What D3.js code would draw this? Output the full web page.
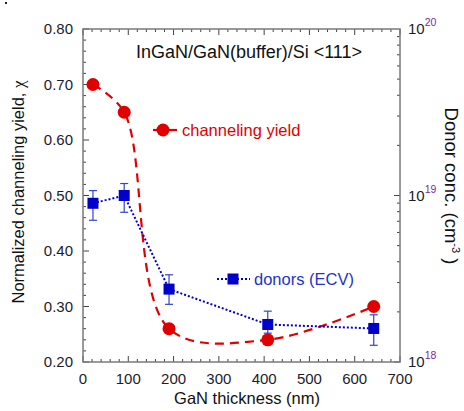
<!DOCTYPE html>
<html lang="en">
<head>
<meta charset="UTF-8">
<title>Channeling yield vs GaN thickness</title>
<script src="https://d3js.org/d3.v7.min.js"></script>
<style>
    body { margin: 0; background: #fff; }
    text { font-family: Arial, "Liberation Sans", sans-serif; }
    .tick-label { font-size: 15px; fill: #1c1c2c; }
    .axis-title { font-size: 16.5px; fill: #111; }
</style>
</head>
<body>
<svg width="464" height="411"></svg>

<script>
    // GaN thickness (nm)
    const thickness = [22, 91, 190, 408, 642];
    // normalized channeling yield (left axis)
    const chanYield = [0.70, 0.65, 0.26, 0.24, 0.30];
    // donor concentration (right axis, cm^-3) with error range
    const donors   = [8.98e18, 1.0e19, 2.74e18, 1.68e18, 1.59e18];
    const donorLow = [7.10e18, 7.93e18, 2.22e18, 1.49e18, 1.26e18];
    const donorHigh= [1.07e19, 1.18e19, 3.34e18, 2.02e18, 1.92e18];

    const xTicks = [0, 100, 200, 300, 400, 500, 600, 700];
    const yTicks = [0.20, 0.30, 0.40, 0.50, 0.60, 0.70, 0.80];
    const rTicks = [1e18, 1e19, 1e20];

    const svg = d3.select("svg");
    const L = 83, R = 400, T = 29, B = 362;

    const x = d3.scaleLinear().domain([0, 700]).range([L, R]);
    const y = d3.scaleLinear().domain([0.2, 0.8]).range([B, T]);
    const yr = d3.scaleLog().domain([1e18, 1e20]).range([B, T]);

    const red = "#e00000", blue = "#0000cc", frame = "#7a7a7a";

    // ticks (all inward)
    const tk = svg.append("g").attr("stroke", "#444").attr("stroke-width", 1);
    d3.range(0, 701, 20).forEach(function (v) {
        const len = v % 100 === 0 ? 6 : 3;
        tk.append("line").attr("x1", x(v)).attr("x2", x(v)).attr("y1", B).attr("y2", B - len);
        tk.append("line").attr("x1", x(v)).attr("x2", x(v)).attr("y1", T).attr("y2", T + len);
    });
    d3.range(0, 31).forEach(function (i) {
        const v = 0.2 + i * 0.02;
        const len = i % 5 === 0 ? 6 : 3;
        tk.append("line").attr("x1", L).attr("x2", L + len).attr("y1", y(v)).attr("y2", y(v));
    });
    [1, 10].forEach(function (dec) {
        d3.range(1, 10).forEach(function (m) {
            const v = m * dec * 1e18;
            const len = m === 1 ? 6 : 3;
            tk.append("line").attr("x1", R).attr("x2", R - len).attr("y1", yr(v)).attr("y2", yr(v));
        });
    });

    // frame
    svg.append("rect").attr("x", L).attr("y", T).attr("width", R - L).attr("height", B - T)
        .attr("fill", "none").attr("stroke", frame).attr("stroke-width", 1.5);

    // tick labels
    svg.selectAll(".xl").data(xTicks).enter().append("text")
        .attr("class", "tick-label").attr("x", d => x(d)).attr("y", B + 22)
        .attr("text-anchor", "middle").text(d => d);
    svg.selectAll(".yl").data(yTicks).enter().append("text")
        .attr("class", "tick-label").attr("x", L - 10).attr("y", d => y(d) + 5)
        .attr("text-anchor", "end").text(d => d.toFixed(2));
    const rl = svg.selectAll(".rl").data(rTicks).enter().append("text")
        .attr("class", "tick-label").attr("x", R + 8).attr("y", d => yr(d) + 5);
    rl.append("tspan").text("10");
    rl.append("tspan").attr("dy", -8).style("font-size", "10.5px").attr("fill", "#7a2c9a")
        .text(d => Math.round(Math.log10(d)));

    // axis titles
    svg.append("text").attr("class", "axis-title").attr("x", 247).attr("y", 404)
        .attr("text-anchor", "middle").text("GaN thickness (nm)");
    const lt = svg.append("text").attr("class", "axis-title")
        .attr("transform", "translate(24,192) rotate(-90)")
        .attr("text-anchor", "middle");
    lt.append("tspan").text("Normalized channeling yield, ");
    lt.append("tspan").style("font-family", "'Liberation Serif', serif").style("font-size", "17px").text("\u03c7");
    const rt = svg.append("text").attr("class", "axis-title")
        .style("font-size", "18.5px")
        .attr("transform", "translate(445,186) rotate(90)")
        .attr("text-anchor", "middle");
    rt.append("tspan").text("Donor conc. (cm");
    rt.append("tspan").attr("dy", -7).style("font-size", "11px").text("-3");
    rt.append("tspan").attr("dy", 7).text(" )");

    svg.append("text").attr("x", 249).attr("y", 58).attr("text-anchor", "middle")
        .attr("font-size", 18).attr("fill", "#111").text("InGaN/GaN(buffer)/Si <111>");

    // red curve
    const redPts = thickness.map((t, i) => [t, chanYield[i]]);
    svg.append("path").datum(redPts)
        .attr("d", d3.line().x(d => x(d[0])).y(d => y(d[1])).curve(d3.curveCatmullRom.alpha(0.5)))
        .attr("fill", "none").attr("stroke", red).attr("stroke-width", 2.2)
        .attr("stroke-dasharray", "9,6");

    // blue line
    const bluePts = thickness.map((t, i) => [t, donors[i]]);
    svg.append("path").datum(bluePts)
        .attr("d", d3.line().x(d => x(d[0])).y(d => yr(d[1])))
        .attr("fill", "none").attr("stroke", blue).attr("stroke-width", 2)
        .attr("stroke-dasharray", "2,2");

    // error bars
    const eb = svg.append("g").attr("stroke", "#3344cc").attr("stroke-width", 1.2);
    thickness.forEach(function (t, i) {
        const cx = x(t);
        eb.append("line").attr("x1", cx).attr("x2", cx).attr("y1", yr(donorLow[i])).attr("y2", yr(donorHigh[i]));
        eb.append("line").attr("x1", cx - 4).attr("x2", cx + 4).attr("y1", yr(donorLow[i])).attr("y2", yr(donorLow[i]));
        eb.append("line").attr("x1", cx - 4).attr("x2", cx + 4).attr("y1", yr(donorHigh[i])).attr("y2", yr(donorHigh[i]));
    });

    // markers
    svg.selectAll(".sq").data(bluePts).enter().append("rect")
        .attr("x", d => x(d[0]) - 5.5).attr("y", d => yr(d[1]) - 5.5)
        .attr("width", 11).attr("height", 11).attr("fill", blue);
    svg.selectAll(".ci").data(redPts).enter().append("circle")
        .attr("cx", d => x(d[0])).attr("cy", d => y(d[1])).attr("r", 6.5).attr("fill", red);

    // legend
    const lg1 = svg.append("g");
    lg1.append("line").attr("x1", 153).attr("x2", 177).attr("y1", 130).attr("y2", 130)
        .attr("stroke", red).attr("stroke-width", 2.2);
    lg1.append("circle").attr("cx", 163).attr("cy", 130).attr("r", 6.5).attr("fill", red);
    lg1.append("text").attr("x", 182).attr("y", 136).attr("font-size", 16.5).attr("fill", red)
        .text("channeling yield");

    const lg2 = svg.append("g");
    lg2.append("line").attr("x1", 217).attr("x2", 250).attr("y1", 279).attr("y2", 279)
        .attr("stroke", blue).attr("stroke-width", 2).attr("stroke-dasharray", "2,2");
    lg2.append("rect").attr("x", 227.5).attr("y", 273.5).attr("width", 11).attr("height", 11).attr("fill", blue);
    lg2.append("text").attr("x", 254).attr("y", 285).attr("font-size", 16.5).attr("fill", "#2233cc")
        .text("donors (ECV)");

    // stray dot in the top-left corner
    svg.append("rect").attr("x", 5).attr("y", 2).attr("width", 2).attr("height", 2).attr("fill", "#222");
</script>
</body>
</html>
